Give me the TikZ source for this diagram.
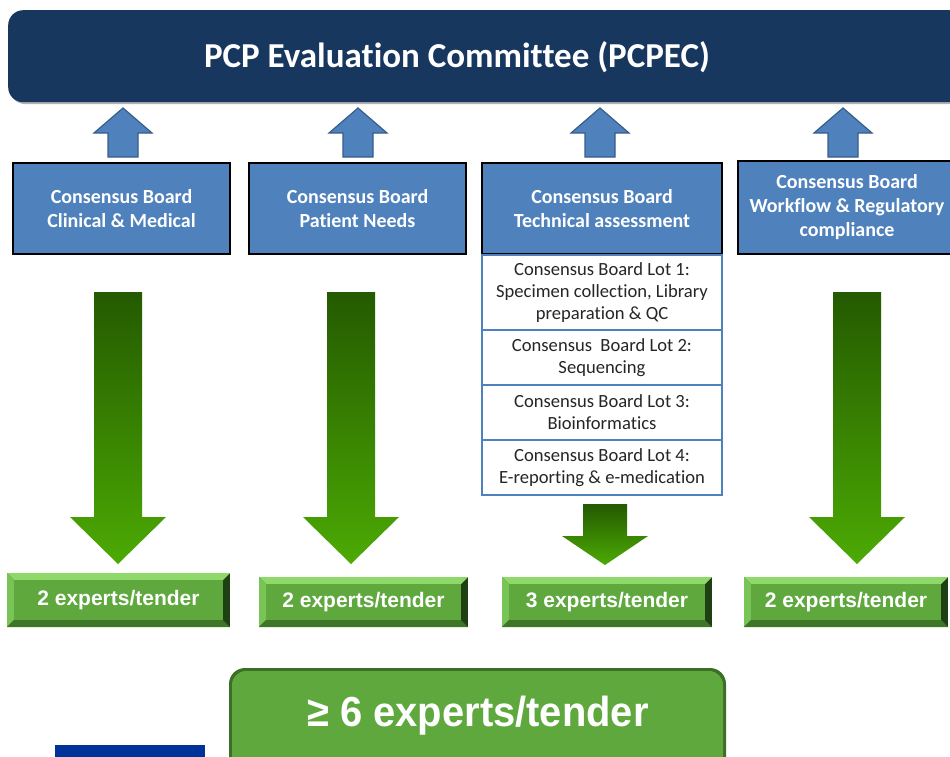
\documentclass[tikz,border=0pt]{standalone}
\usepackage{fontspec}
\setmainfont[Ligatures={NoCommon}]{Carlito}
\newfontfamily\arialf{Liberation Sans}
\usetikzlibrary{fit}
\definecolor{navy}{RGB}{23,55,94}
\definecolor{bblue}{RGB}{79,129,189}
\definecolor{bblueline}{RGB}{56,93,138}
\definecolor{gdark1}{RGB}{36,90,0}
\definecolor{gdark2}{RGB}{76,170,4}
\definecolor{gface}{RGB}{94,168,62}
\definecolor{gtop}{RGB}{143,216,106}
\definecolor{gleft}{RGB}{120,196,86}
\definecolor{gbot}{RGB}{62,118,40}
\definecolor{gright}{RGB}{30,64,18}
\definecolor{glight}{RGB}{150,222,112}
\definecolor{gedge}{RGB}{60,110,38}
\definecolor{lotblue}{RGB}{79,129,189}
\definecolor{corpblue}{RGB}{0,51,153}
\pgfdeclareverticalshading{bigbtn}{100bp}{color(0bp)=(gface); color(80bp)=(gface); color(90bp)=(glight); color(96bp)=(glight); color(100bp)=(gedge)}
\tikzset{
  board/.style={fill=bblue, draw=black, line width=2pt, inner sep=0pt, anchor=north west, align=center, text=white, font=\fontsize{20}{24}\selectfont\bfseries},
  lotrow/.style={fill=white, draw=lotblue, line width=2pt, inner sep=0pt, anchor=north west, align=center, text=black!85, font=\fontsize{18.6}{22}\selectfont, minimum width=240pt},
  uparrow/.style={fill=bblue, draw=bblueline, line width=1.2pt},
  downarrow/.style={top color=gdark1, bottom color=gdark2, draw=none},
  exptext/.style={text=white, font=\arialf\fontsize{21}{25}\selectfont\bfseries, inner sep=0pt}
}
\newcommand{\expbox}[6]{%
  \fill[gright] (#2,#3) rectangle (#4,#5);
  \fill[gtop] (#2,#3) -- (#4,#3) -- ({#4-7},{#3+7}) -- ({#2+7},{#3+7}) -- cycle;
  \fill[gleft] (#2,#3) -- ({#2+7},{#3+7}) -- ({#2+7},{#5-7}) -- (#2,#5) -- cycle;
  \fill[gbot] (#2,#5) -- ({#2+7},{#5-7}) -- ({#4-7},{#5-7}) -- (#4,#5) -- cycle;
  \coordinate (#1a) at ({#2+7},{#3+7});
  \coordinate (#1b) at ({#4-7},{#5-7});
  \node[fit=(#1a)(#1b), inner sep=0pt, fill=gface] (#1) {};
  \node[exptext] (#1t) at (#1.center) {#6};
}
\newcommand{\uparr}[2]{%
  \draw[uparrow] ({#1-15},157) -- ({#1-15},133) -- ({#1-29},133) -- (#1,108) -- ({#1+29},133) -- ({#1+15},133) -- ({#1+15},157) -- cycle;
  \coordinate (#2) at (#1,108);
}
\newcommand{\downarr}[6]{% center, shaft half, head half, top, headbase, tip
  \shade[downarrow] ({#1-#2},#4) -- ({#1+#2},#4) -- ({#1+#2},#5) -- ({#1+#3},#5) -- (#1,#6) -- ({#1-#3},#5) -- ({#1-#2},#5) -- cycle;
}
\begin{document}
\begin{tikzpicture}[x=1pt,y=-1pt]
\useasboundingbox (0,0) rectangle (950,756);
\fill[white] (0,0) rectangle (950,756);
% title
\fill[gray!60, rounded corners=15pt] (10,12) rectangle (964,104);
\node[fill=navy, rounded corners=15pt, anchor=north west, minimum width=956pt, minimum height=92pt, inner sep=0pt] (pcpec) at (8,10) {};
\node[text=white, font=\fontsize{35}{40}\selectfont\bfseries] (pcpect) at (457,57) {PCP Evaluation Committee (PCPEC)};
% up arrows
\uparr{123}{u1}
\uparr{358}{u2}
\uparr{600}{u3}
\uparr{843}{u4}
% boards
\node[board, minimum width=217pt, minimum height=91pt] (b1) at (12,162) {Consensus Board\\Clinical \& Medical};
\node[board, minimum width=217pt, minimum height=91pt] (b2) at (248,162) {Consensus Board\\Patient Needs};
\node[board, minimum width=240pt, minimum height=91pt] (b3) at (481,162) {Consensus Board\\Technical assessment};
\node[board, minimum width=218pt, minimum height=93pt] (b4) at (737,160) {Consensus Board\\Workflow \& Regulatory\\compliance};
% lots
\node[lotrow, minimum height=75pt] (l1) at (481,254) {Consensus Board Lot 1:\\Specimen collection, Library\\preparation \& QC};
\node[lotrow, minimum height=55pt] (l2) at (481,329) {Consensus~ Board Lot 2:\\Sequencing};
\node[lotrow, minimum height=55pt] (l3) at (481,384) {Consensus Board Lot 3:\\Bioinformatics};
\node[lotrow, minimum height=55pt] (l4) at (481,439) {Consensus Board Lot 4:\\E-reporting \& e-medication};
% green down arrows
\downarr{118}{24}{48}{292}{517}{564}
\downarr{351}{24}{48}{292}{517}{564}
\downarr{605}{22}{43}{504}{536}{565}
\downarr{857}{24}{48}{292}{517}{564}
% expert boxes
\expbox{e1}{7}{573}{230}{627}{2 experts/tender}
\expbox{e2}{259}{577}{468}{627}{2 experts/tender}
\expbox{e3}{502}{577}{712}{627}{3 experts/tender}
\expbox{e4}{744}{577}{948}{627}{2 experts/tender}
% big total box
\fill[gedge, rounded corners=16pt] (229,668) rectangle (726,780);
\shade[shading=bigbtn, rounded corners=14pt] (232,671) rectangle (723,780);
\node[text=white, font=\arialf\fontsize{42}{46}\selectfont\bfseries, xscale=0.95] (total) at (478,716) {≥ 6 experts/tender};
% blue bar
\fill[corpblue] (55,745) rectangle (205,760);
\end{tikzpicture}
\end{document}
